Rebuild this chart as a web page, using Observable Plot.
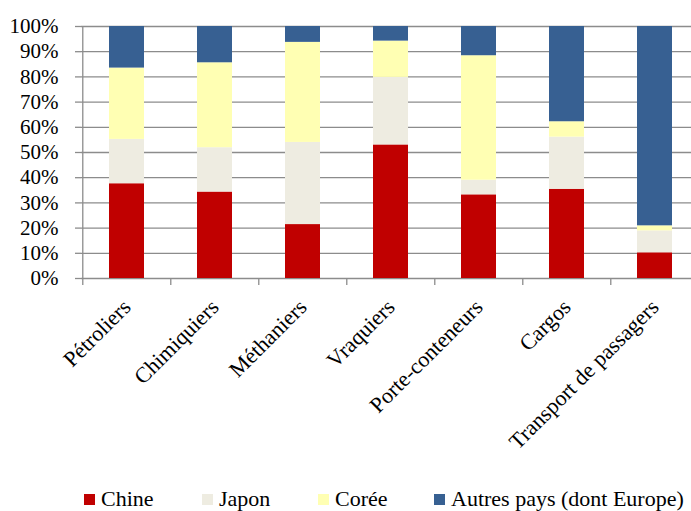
<!DOCTYPE html>
<html><head><meta charset="utf-8">
<script src="https://cdn.jsdelivr.net/npm/d3@7"></script>
<script src="https://cdn.jsdelivr.net/npm/@observablehq/plot@0.6"></script>
<style>
body{margin:0;background:#fff;font-family:"Liberation Serif","Times New Roman",serif;width:691px}
#chart svg text{font-family:"Liberation Serif","Times New Roman",serif}
#legend{position:relative;height:31px;font-size:22px;line-height:22px;color:#000}
.item{position:absolute;top:8px;height:22px;display:flex;align-items:center;white-space:nowrap}
.sw{width:11px;height:11px;margin-right:6px;display:inline-block}
</style></head><body><div id="chart"></div><div id="legend"></div>
<script>
const categories = ["Pétroliers","Chimiquiers","Méthaniers","Vraquiers","Porte-conteneurs","Cargos","Transport de passagers"];
const series = ["Chine","Japon","Corée","Autres pays (dont Europe)"];
const chine  = [37.6, 34.3, 21.4, 53.0, 33.2, 35.4, 10.2];
const japon  = [17.6, 17.6, 32.6, 26.8,  5.8, 20.7,  8.7];
const coree  = [28.3, 33.7, 39.7, 14.4, 49.4,  6.1,  2.0];
const autres = [16.5, 14.4,  6.3,  5.8, 11.6, 37.8, 79.1];
const colors = ["#C00000","#EEECE1","#FFFFB3","#376092"];
const yTicks = [0,10,20,30,40,50,60,70,80,90,100];
const legendLeft = [84, 202, 318, 434];

const values = [chine, japon, coree, autres];
const data = categories.flatMap((c,i)=>series.map((s,j)=>({cat:c, series:s, value:values[j][i]})));

const xRange = [81, 700];
const step = (xRange[1]-xRange[0])/categories.length;
const grey = "#8c8c8c";
const serif = "'Liberation Serif','Times New Roman',serif";

const plot = Plot.plot({
  width:691, height:480,
  marginTop:26, marginLeft:81, marginRight:0, marginBottom:202,
  style:{fontFamily:serif, fontSize:"21px", color:"#000", background:"#fff"},
  x:{domain:categories, range:xRange, paddingInner:0.6, paddingOuter:0.3, label:null},
  y:{domain:[0,100], range:[278,26], label:null},
  color:{domain:series, range:colors},
  marks:[
    Plot.gridY(yTicks, {stroke:grey, strokeOpacity:1, strokeWidth:1.3}),
    Plot.axisY(yTicks, {tickSize:6, tickFormat:()=>"", stroke:grey, strokeWidth:1.3}),
    Plot.axisY(yTicks, {tickSize:0, tickPadding:23, tickFormat:d=>d+"%", fill:"#000", fontSize:21}),
    Plot.barY(data, Plot.stackY({x:"cat", y:"value", fill:"series"})),
    Plot.ruleX([categories[0]], {dx:-step/2, y1:0, y2:100, stroke:grey, strokeWidth:1.3}),
    Plot.axisX(categories, {tickSize:7, tickFormat:()=>"", dx:-step/2, stroke:grey, strokeWidth:1.3}),
    Plot.axisX(categories, {tickSize:0, tickRotate:-45, tickPadding:25, fill:"#000", fontSize:22})
  ]
});
document.getElementById("chart").appendChild(plot);

const leg = document.getElementById("legend");
series.forEach((s,i)=>{
  const it = document.createElement("div");
  it.className="item";
  it.style.left = legendLeft[i]+"px";
  it.innerHTML = `<span class="sw" style="background:${colors[i]}"></span><span>${s}</span>`;
  leg.appendChild(it);
});
</script></body></html>
